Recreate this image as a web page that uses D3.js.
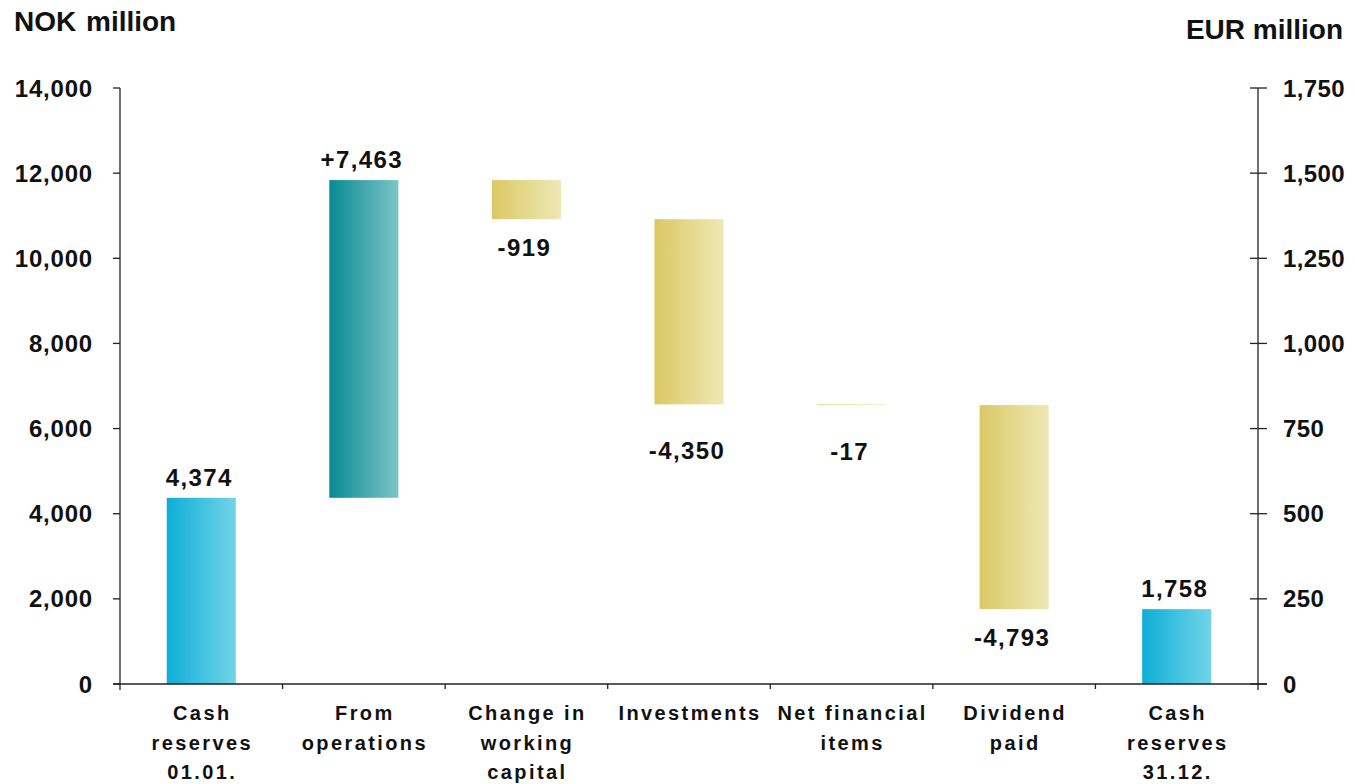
<!DOCTYPE html>
<html>
<head>
<meta charset="utf-8">
<script src="https://cdn.jsdelivr.net/npm/d3@7"></script>
<style>
  html, body { margin: 0; padding: 0; background: #fff; }
  svg { display: block; font-family: "Liberation Sans", Arial, sans-serif; font-weight: bold; }
</style>
</head>
<body>
<svg id="chart" width="1355" height="784"></svg>
<script>
// Cash flow bridge, NOK million (right axis shows EUR at 8 NOK/EUR)
const categories = [
  ["Cash", "reserves", "01.01."],
  ["From", "operations"],
  ["Change in", "working", "capital"],
  ["Investments"],
  ["Net financial", "items"],
  ["Dividend", "paid"],
  ["Cash", "reserves", "31.12."]
];
// kind: "total" = standalone level, "change" = floating step
const kinds  = ["total", "change", "change", "change", "change", "change", "total"];
const values = [4374, 7463, -919, -4350, -17, -4793, 1758];
const nokTicks = [0, 2000, 4000, 6000, 8000, 10000, 12000, 14000];
const eurTicks = [0, 250, 500, 750, 1000, 1250, 1500, 1750];
const nokPerEur = 8;

const svg = d3.select("#chart");
const plotLeft = 120, plotRight = 1258, plotTop = 88, plotBottom = 684;

const x = d3.scaleBand().domain(d3.range(categories.length))
  .range([plotLeft, plotRight]).paddingInner(0.575).paddingOuter(0.2875);
const y = d3.scaleLinear().domain([0, 14000]).range([plotBottom, plotTop]);
const yEur = d3.scaleLinear().domain([0, 14000 / nokPerEur]).range([plotBottom, plotTop]);

// build running bridge
let running = 0;
const bars = values.map((v, i) => {
  let y0, y1;
  if (kinds[i] === "total") { y0 = 0; y1 = v; running = v; }
  else { y0 = running; y1 = running + v; running = y1; }
  return { i, v, kind: kinds[i], lo: Math.min(y0, y1), hi: Math.max(y0, y1) };
});

// gradients
const defs = svg.append("defs");
function grad(id, c0, c1) {
  const g = defs.append("linearGradient").attr("id", id)
    .attr("x1", "0%").attr("x2", "100%").attr("y1", "0%").attr("y2", "0%");
  g.append("stop").attr("offset", "0%").attr("stop-color", c0);
  g.append("stop").attr("offset", "100%").attr("stop-color", c1);
}
grad("gCash", "#0eaed7", "#72d4e8");
grad("gPos", "#078a92", "#7ec5c7");
grad("gNeg", "#dac964", "#efe8b6");

function fillFor(b) {
  if (b.kind === "total") return "url(#gCash)";
  return b.v >= 0 ? "url(#gPos)" : "url(#gNeg)";
}

svg.append("g").selectAll("rect").data(bars).join("rect")
  .attr("x", d => x(d.i))
  .attr("width", x.bandwidth())
  .attr("y", d => y(d.hi))
  .attr("height", d => y(d.lo) - y(d.hi))
  .attr("fill", fillFor);

// value labels (plain hyphen for negatives)
const fmt = v => d3.format(",")(v).replace("\u2212", "-");
const extraDrop = { 3: 18, 4: 18 };
svg.append("g").selectAll("text").data(bars).join("text")
  .attr("x", d => x(d.i) + x.bandwidth() / 2 - 2)
  .attr("y", d => d.v >= 0 ? y(d.hi) - 12 : y(d.lo) + 37 + (extraDrop[d.i] || 0))
  .attr("text-anchor", "middle")
  .attr("font-size", 24)
  .attr("letter-spacing", 1.4)
  .attr("fill", "#111")
  .text(d => d.kind === "total" ? fmt(d.v) : (d.v > 0 ? "+" : "") + fmt(d.v));

// axes
const axisColor = "#222";
const ax = svg.append("g").attr("stroke", axisColor).attr("stroke-width", 1.3).attr("fill", "none");
ax.append("line").attr("x1", plotLeft).attr("x2", plotLeft).attr("y1", plotTop).attr("y2", plotBottom + 6);
ax.append("line").attr("x1", plotRight).attr("x2", plotRight).attr("y1", plotTop).attr("y2", plotBottom + 6);
ax.append("line").attr("x1", plotLeft - 7).attr("x2", plotRight + 9).attr("y1", plotBottom).attr("y2", plotBottom);
ax.selectAll(".lt").data(nokTicks).join("line")
  .attr("x1", plotLeft - 7).attr("x2", plotLeft).attr("y1", d => y(d)).attr("y2", d => y(d));
ax.selectAll(".rt").data(eurTicks).join("line")
  .attr("x1", plotRight - 8).attr("x2", plotRight + 9).attr("y1", d => yEur(d)).attr("y2", d => yEur(d));
ax.selectAll(".bt").data(d3.range(1, categories.length)).join("line")
  .attr("x1", d => x(d) - x.step() * x.paddingInner() / 2)
  .attr("x2", d => x(d) - x.step() * x.paddingInner() / 2)
  .attr("y1", plotBottom).attr("y2", plotBottom + 5);

const tickFmt = d3.format(",");
svg.append("g").selectAll("text").data(nokTicks).join("text")
  .attr("x", 93).attr("y", d => y(d)).attr("dy", "0.36em")
  .attr("text-anchor", "end").attr("font-size", 24).attr("letter-spacing", 0.8)
  .attr("fill", "#111").text(d => tickFmt(d));
svg.append("g").selectAll("text").data(eurTicks).join("text")
  .attr("x", 1283).attr("y", d => yEur(d)).attr("dy", "0.36em")
  .attr("text-anchor", "start").attr("font-size", 24).attr("letter-spacing", 0.4)
  .attr("fill", "#111").text(d => tickFmt(d));

// category labels
const catG = svg.append("g").selectAll("text").data(categories).join("text")
  .attr("text-anchor", "middle").attr("font-size", 20).attr("letter-spacing", 2.4)
  .attr("fill", "#111");
catG.selectAll("tspan").data((d, i) => d.map(line => ({ line, i }))).join("tspan")
  .attr("x", d => x(d.i) + x.bandwidth() / 2 + 1)
  .attr("y", (d, k) => 720 + k * 29.5)
  .text(d => d.line);

// axis titles
svg.append("text").attr("x", 14).attr("y", 31).attr("font-size", 28).attr("word-spacing", 2).attr("fill", "#111").text("NOK million");
svg.append("text").attr("x", 1343).attr("y", 39).attr("text-anchor", "end").attr("font-size", 28).attr("fill", "#111").text("EUR million");
</script>
</body>
</html>
